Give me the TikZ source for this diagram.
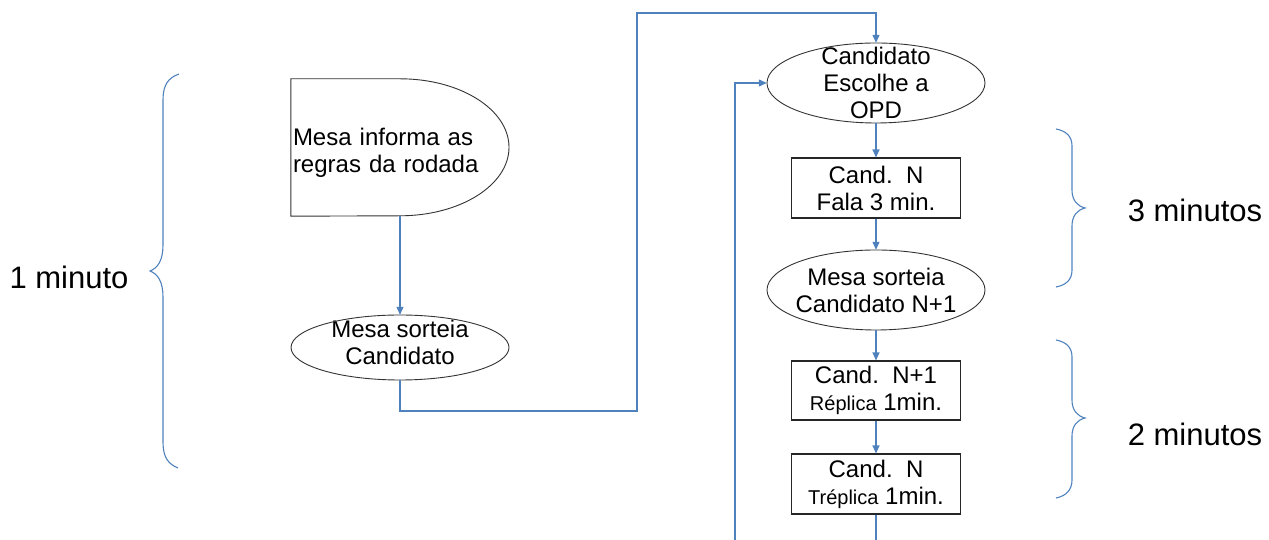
\documentclass[tikz,border=0pt]{standalone}
\usepackage{fontspec}
\setmainfont{Liberation Sans}
\usetikzlibrary{arrows.meta}
\definecolor{conblue}{RGB}{79,129,189}
\begin{document}
\begin{tikzpicture}[x=1pt,y=1pt,
  box/.style={draw=black!85,line width=1.1pt,rectangle,minimum width=169pt,minimum height=60pt,inner sep=0pt,align=center,font=\fontsize{24}{27}\selectfont},
  ovalbox/.style={rectangle,inner sep=0pt,align=center,font=\fontsize{24}{27}\selectfont},
  outline/.style={draw=black!80,line width=0.9pt},
  con/.style={draw=conblue,line width=1.2pt},
  arr/.style={con,-{Triangle[length=8pt,width=7pt]}},
  brace/.style={draw=conblue,line width=1.1pt},
  lbl/.style={font=\fontsize{31}{34}\selectfont}]
\useasboundingbox (0,0) rectangle (1269,540);

% left column
\node[ovalbox,minimum width=218pt,minimum height=137pt,text width=214pt,align=left,inner sep=2pt,text height=28pt] (rules) at (400,392.5) {Mesa informa as\\regras da rodada};
\draw[outline] (rules.north west) -- (rules.north) arc[start angle=90,end angle=-90,x radius=109pt,y radius=68.5pt] -- (rules.south west) -- cycle;

\node[ovalbox,minimum width=218pt,minimum height=65pt,text depth=10pt] (sort1) at (400,192.5) {Mesa sorteia\\Candidato};
\draw[outline] (sort1.center) ellipse[x radius=109pt,y radius=32.5pt];

% right column
\node[ovalbox,minimum width=218pt,minimum height=80pt] (opd) at (876,457) {Candidato\\Escolhe a\\OPD};
\draw[outline] (opd.center) ellipse[x radius=109pt,y radius=40pt];

\node[box] (fala) at (876,352) {Cand.\ \ N\\Fala 3 min.};

\node[ovalbox,minimum width=218pt,minimum height=80pt] (sort2) at (876,250) {Mesa sorteia\\Candidato N+1};
\draw[outline] (sort2.center) ellipse[x radius=109pt,y radius=40pt];

\node[box,minimum height=59pt] (replica) at (876,149.5) {Cand.\ \ N+1\\{\fontsize{20}{24}\selectfont Réplica} 1min.};
\node[box] (treplica) at (876,56) {Cand.\ \ N\\{\fontsize{20}{24}\selectfont Tréplica} 1min.};

\coordinate (loopin) at (735,0);
\coordinate (outend) at (876,0);

% connectors
\draw[arr] (rules.south) -- (sort1.north);
\draw[arr] (sort1.south) |- (637,129) |- (876,527) -- (opd.north);
\draw[arr] (loopin) |- (opd.west);
\draw[arr] (opd.south) -- (fala.north);
\draw[arr] (fala.south) -- (sort2.north);
\draw[arr] (sort2.south) -- (replica.north);
\draw[arr] (replica.south) -- (treplica.north);
\draw[con] (treplica.south) -- (outend);

% braces
\draw[brace] (179,466) .. controls (168,462) and (163,455) .. (163,440) -- (163,295) .. controls (163,280) and (158,272) .. (150,269) .. controls (158,266) and (163,258) .. (163,243) -- (163,98) .. controls (163,83) and (168,76) .. (178,72);
\draw[brace] (1056,411) .. controls (1066,409) and (1072,404) .. (1072,394) -- (1072,350) .. controls (1072,340) and (1077,334) .. (1085,332) .. controls (1077,330) and (1072,324) .. (1072,314) -- (1072,270) .. controls (1072,260) and (1066,255) .. (1056,253);
\draw[brace] (1056,200) .. controls (1066,198) and (1072,193) .. (1072,183) -- (1072,140) .. controls (1072,130) and (1077,124) .. (1085,122) .. controls (1077,120) and (1072,114) .. (1072,104) -- (1072,60) .. controls (1072,50) and (1066,44) .. (1056,42);

\node[lbl] (m1) at (69,263) {1 minuto};
\node[lbl] (m3) at (1195,330) {3 minutos};
\node[lbl] (m2) at (1195,106) {2 minutos};
\end{tikzpicture}
\end{document}
